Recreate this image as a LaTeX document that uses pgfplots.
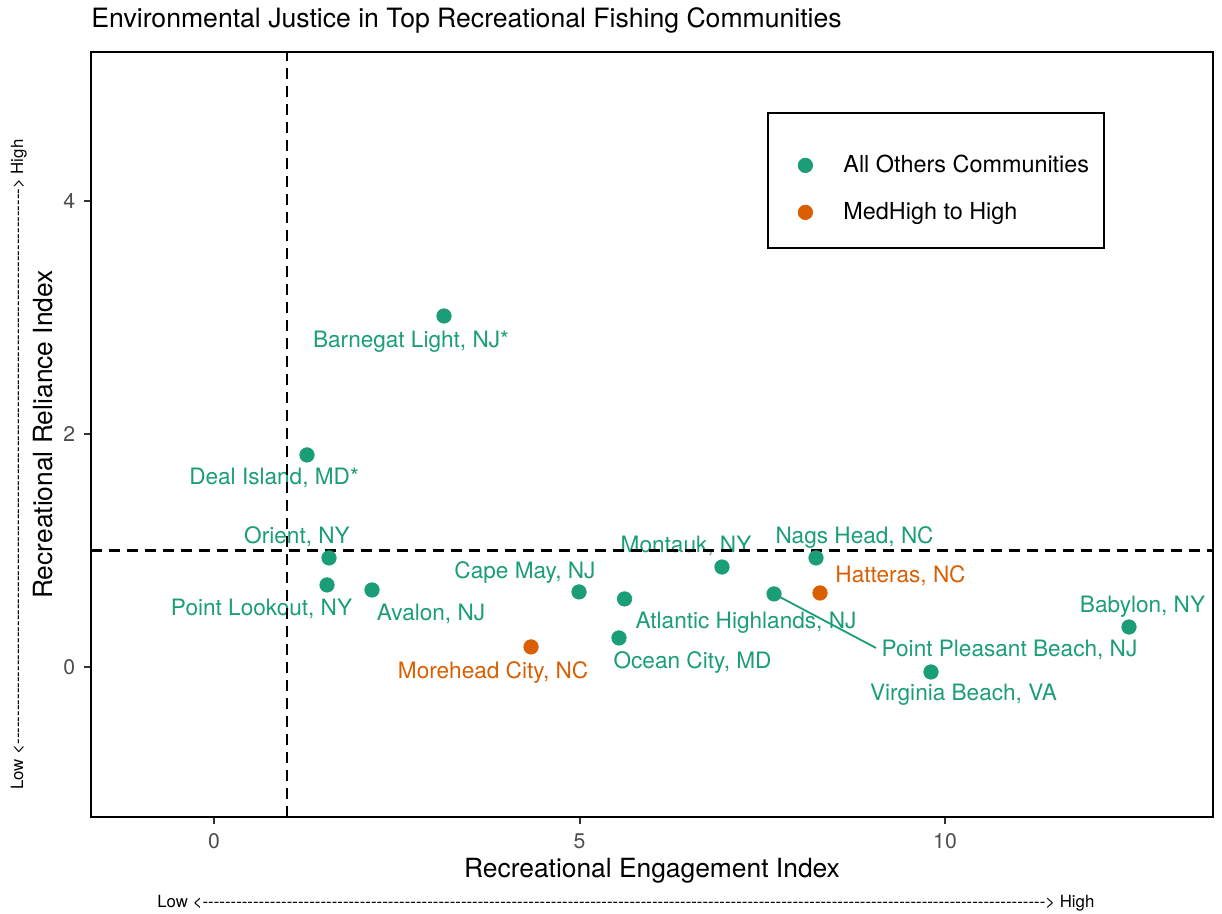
\documentclass[border=0pt]{standalone}
\usepackage{pgfplots}
\pgfplotsset{compat=1.18}
\usepackage{fontspec}
\setmainfont{TeX Gyre Heros}
\definecolor{teal2}{HTML}{1B9E77}
\definecolor{orange2}{HTML}{D95F02}
\definecolor{tickgray}{HTML}{4D4D4D}
\definecolor{tickmark}{HTML}{333333}
\newcommand{\lblfont}{\fontsize{11.3bp}{13.5bp}\selectfont}
\newcommand{\annfont}{\fontsize{8.4bp}{10bp}\selectfont}
\begin{document}
\begin{tikzpicture}
\useasboundingbox (-45.5bp,-48.5bp) rectangle (565.5bp,408.5bp);
\begin{axis}[
  scale only axis, width=561bp, height=382.5bp,
  xmin=-1.683, xmax=13.666, ymin=-1.288, ymax=5.279,
  axis line style={line width=1.2bp, black},
  xtick={0,5,10}, ytick={0,2,4},
  tick align=outside, tick pos=left,
  major tick length=3.3bp,
  every tick/.style={tickmark, line width=1bp},
  /pgf/number format/assume math mode=true,
  ticklabel style={font=\fontsize{10.6bp}{12bp}\selectfont, text=tickgray},
  xticklabel style={anchor=base, inner sep=0pt, yshift=-12.4bp},
  yticklabel style={anchor=east, inner sep=0pt, xshift=-4.4bp},
  every axis title shift=0pt,
  title={Environmental Justice in Top Recreational Fishing Communities},
  title style={at={(axis description cs:0,1.03137)}, anchor=base west, inner sep=0pt, font=\fontsize{13.3bp}{16bp}\selectfont},
  xlabel={Recreational Engagement Index},
  xlabel style={at={(axis description cs:0.5,-0.07843)}, anchor=base, inner sep=0pt, font=\fontsize{13.2bp}{16bp}\selectfont},
  ylabel={Recreational Reliance Index},
  ylabel style={at={(axis description cs:-0.03387,0.5)}, anchor=base, inner sep=0pt, font=\fontsize{13.2bp}{16bp}\selectfont},
  legend style={at={(axis description cs:0.62995,0.87843)}, anchor=north west, draw=none, fill=none,
    inner xsep=0pt, inner ysep=0pt, nodes={inner sep=0pt, text height=0.72em, text depth=0pt},
    row sep=3.5bp, column sep=15.4bp, font=\fontsize{11.7bp}{14bp}\selectfont},
  legend cell align=left,
  legend image code/.code={\path[draw=none, fill=none] (-3.6bp,-10bp) rectangle (3.6bp,10bp); \draw[#1] plot coordinates {(0bp,0bp)};},
]
% legend frame
\draw[line width=0.6bp, black] (axis description cs:0.60339,0.74379) rectangle (axis description cs:0.90285,0.92026);

% All others communities
\addplot[only marks, mark=*, mark size=3.6bp, color=teal2, mark options={draw=none, fill=teal2}] table {
x y
3.146 3.013
1.272 1.820
1.573 0.936
1.546 0.704
2.161 0.661
4.993 0.644
5.616 0.584
5.540 0.249
6.949 0.858
8.235 0.936
7.661 0.627
12.517 0.343
9.808 -0.043
};
\addlegendentry{All Others Communities}
% MedHigh to High
\addplot[only marks, mark=*, mark size=3.6bp, color=orange2, mark options={draw=none, fill=orange2}] table {
x y
8.290 0.635
4.337 0.172
};
\addlegendentry{MedHigh to High}

% connector segment for Point Pleasant Beach label
\addplot[teal2, line width=0.9bp, forget plot] coordinates {(7.661,0.627) (9.056,0.163)};

% labels
\begin{scope}[every node/.style={font=\lblfont, anchor=base, inner sep=0pt}]
\node[text=teal2] at (axis cs:2.695,2.742) {Barnegat Light, NJ*};
\node[text=teal2] at (axis cs:0.821,1.562) {Deal Island, MD*};
\node[text=teal2] at (axis cs:1.135,1.056) {Orient, NY};
\node[text=teal2] at (axis cs:0.650,0.442) {Point Lookout, NY};
\node[text=teal2] at (axis cs:2.969,0.395) {Avalon, NJ};
\node[text=orange2] at (axis cs:3.817,-0.099) {Morehead City, NC};
\node[text=teal2] at (axis cs:4.254,0.760) {Cape May, NJ};
\node[text=teal2] at (axis cs:6.457,0.979) {Montauk, NY};
\node[text=teal2] at (axis cs:8.762,1.056) {Nags Head, NC};
\node[text=orange2] at (axis cs:9.391,0.721) {Hatteras, NC};
\node[text=teal2] at (axis cs:7.278,0.326) {Atlantic Highlands, NJ};
\node[text=teal2] at (axis cs:6.546,-0.017) {Ocean City, MD};
\node[text=teal2] at (axis cs:10.882,0.086) {Point Pleasant Beach, NJ};
\node[text=teal2] at (axis cs:12.702,0.464) {Babylon, NY};
\node[text=teal2] at (axis cs:10.253,-0.292) {Virginia Beach, VA};
\end{scope}

% reference lines
\addplot[black, line width=1.1bp, dash pattern=on 5.5bp off 3.5bp, forget plot] coordinates {(1,-1.288) (1,5.279)};
\addplot[black, line width=1.1bp, dash pattern=on 5.5bp off 3.5bp, forget plot] coordinates {(-1.683,1) (13.666,1)};
\end{axis}

% direction annotations
\node[anchor=base west, inner sep=0pt, font=\annfont] at (33bp,-45bp)
  {\hbox to 468.5bp{Low <\xleaders\hbox{-}\hfill> High}};
\node[anchor=base west, inner sep=0pt, font=\annfont, rotate=90] at (-34bp,13.5bp)
  {\hbox to 325bp{Low <\xleaders\hbox{-}\hfill> High}};
\end{tikzpicture}
\end{document}
